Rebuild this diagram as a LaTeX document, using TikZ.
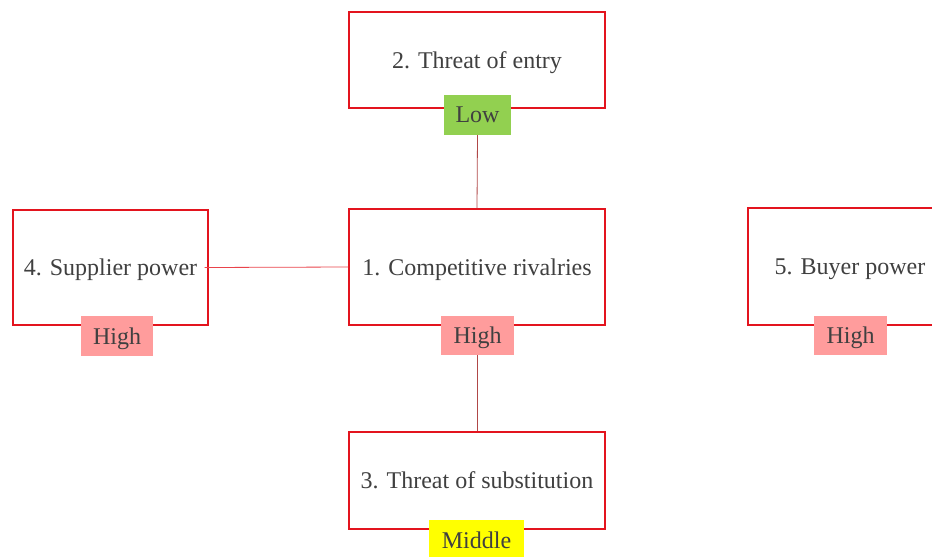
\documentclass[tikz,border=0pt]{standalone}
\usepackage{fontspec}
\newfontfamily\libser{Liberation Serif}
\newfontfamily\dejaser{DejaVu Serif}
\definecolor{boxred}{HTML}{E3141E}
\definecolor{txt}{HTML}{404040}
\definecolor{lowgreen}{HTML}{92D050}
\definecolor{highred}{HTML}{FF9C9C}
\definecolor{midyellow}{HTML}{FFFF00}
\definecolor{linkred}{HTML}{B04848}
\begin{document}
\begin{tikzpicture}[x=1pt,y=1pt,
  force/.style={draw=boxred,line width=1.3pt,fill=white,inner sep=0pt,text=txt,
    font=\fontsize{24}{28}\selectfont,text depth=0pt},
  badge/.style={inner sep=0pt,text=txt,font=\fontsize{24}{28}\selectfont,text depth=0pt},
  link/.style={draw=linkred,line width=0.8pt}]
\useasboundingbox (0,0) rectangle (932,-557);
\clip (0,0) rectangle (932,-557);
\node[force,minimum width=256,minimum height=96] (b2) at (477,-60) {\libser 2. Threat of entry};
\node[force,minimum width=256,minimum height=116] (b1) at (477,-267) {\libser 1. Competitive rivalries};
\node[force,minimum width=195,minimum height=115] (b4) at (110.5,-267.5) {\libser 4. Supplier power};
\node[force,minimum width=204,minimum height=117] (b5) at (850,-266.5) {\libser 5. Buyer power};
\node[force,minimum width=256,minimum height=97] (b3) at (477,-480.5) {\libser 3. Threat of substitution};
\node[badge,fill=lowgreen,minimum width=67,minimum height=40] (l2) at (477.5,-115) {\libser Low};
\node[badge,fill=highred,minimum width=73,minimum height=39] (l1) at (477.5,-335.5) {\libser High};
\node[badge,fill=highred,minimum width=72,minimum height=40] (l4) at (117,-336) {\libser High};
\node[badge,fill=highred,minimum width=73,minimum height=39] (l5) at (850.5,-335.5) {\libser High};
\node[badge,fill=midyellow,minimum width=95,minimum height=40] (l3) at (476.5,-540) {\libser Middle};
\draw[link] (l2.south) -- (b2.south |- b1.north);
\draw[link] (l1.south) -- (l1.south |- b3.north);
\draw[link,draw=boxred!80] ([xshift=-4pt]b4.east) -- (b1.west);
\end{tikzpicture}
\end{document}
